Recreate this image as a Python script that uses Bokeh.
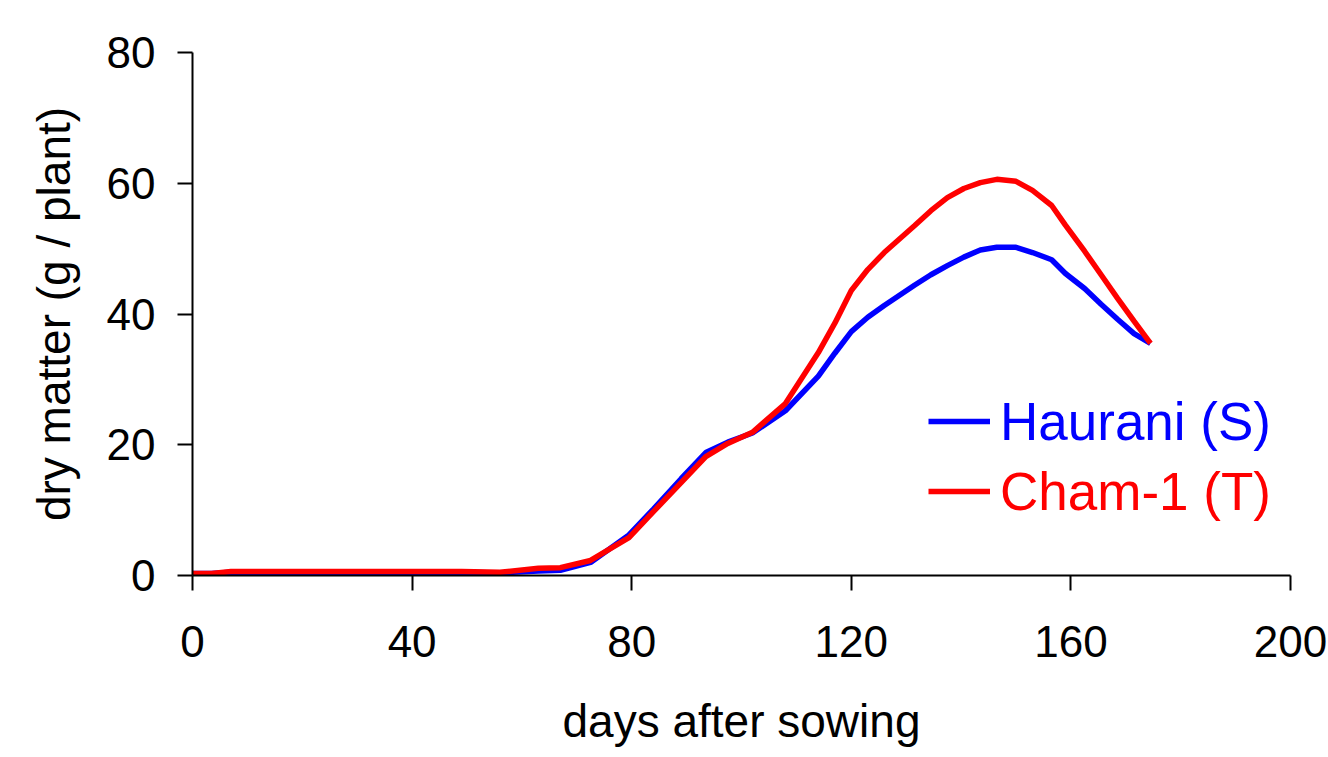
from bokeh.plotting import figure
from bokeh.models import Range1d, Legend, LegendItem, FixedTicker
from bokeh.embed import file_html
from bokeh.resources import INLINE

days = [0, 3.5, 7, 14, 21, 28, 35, 42, 49, 56, 63, 67, 72.5, 79.5, 84, 89, 93.5,
        97.5, 102, 108, 114, 117, 120, 123, 126, 131.5, 134.5, 137.5, 140.5, 143.5,
        146.5, 150, 153, 156.5, 159, 162.5, 165.5, 168.5, 171.5, 174.5]
haurani = [0.3, 0.3, 0.5, 0.5, 0.5, 0.5, 0.5, 0.5, 0.5, 0.4, 0.7, 0.8, 2.0, 6.2,
           10.2, 14.8, 18.8, 20.4, 21.8, 25.2, 30.5, 34.0, 37.3, 39.5, 41.3, 44.4, 46.0,
           47.4, 48.7, 49.8, 50.2, 50.2, 49.4, 48.3, 46.2, 43.9, 41.5, 39.2, 37.0, 35.5]
cham1 = [0.3, 0.3, 0.6, 0.6, 0.6, 0.6, 0.6, 0.6, 0.6, 0.5, 1.1, 1.2, 2.3, 5.8,
         9.8, 14.2, 18.2, 20.2, 21.9, 26.3, 34.1, 38.6, 43.6, 46.8, 49.4, 53.5, 55.8,
         57.8, 59.2, 60.1, 60.6, 60.3, 58.9, 56.6, 53.6, 49.6, 46.0, 42.4, 38.9, 35.5]
x_ticks = [0, 40, 80, 120, 160, 200]
y_ticks = [0, 20, 40, 60, 80]
series_names = ["Haurani (S)", "Cham-1 (T)"]
series_colors = ["#0000FF", "#FF0000"]

FONT = "Liberation Sans"

p = figure(width=1328, height=757, output_backend="svg", toolbar_location=None,
           x_range=Range1d(0, 200), y_range=Range1d(0, 80),
           min_border_left=192, min_border_right=38, min_border_top=52, min_border_bottom=182)
p.outline_line_color = None
p.grid.visible = False
p.background_fill_color = "white"
p.border_fill_color = "white"

r1 = p.line(days, haurani, line_color=series_colors[0], line_width=5.5)
r2 = p.line(days, cham1, line_color=series_colors[1], line_width=5.5)

for ax in (p.xaxis[0], p.yaxis[0]):
    ax.axis_line_color = "black"
    ax.axis_line_width = 2
    ax.major_tick_line_color = "black"
    ax.major_tick_line_width = 2
    ax.major_tick_in = 0
    ax.major_tick_out = 15
    ax.minor_tick_line_color = None
    ax.major_label_text_font = FONT
    ax.major_label_text_font_size = "44px"
    ax.major_label_text_color = "black"
    ax.axis_label_text_font = FONT
    ax.axis_label_text_font_size = "46px"
    ax.axis_label_text_font_style = "normal"
    ax.axis_label_text_color = "black"

p.xaxis.ticker = FixedTicker(ticks=x_ticks)
p.yaxis.ticker = FixedTicker(ticks=y_ticks)
p.xaxis.axis_label = "days after sowing"
p.yaxis.axis_label = "dry matter (g / plant)"
p.xaxis.major_label_standoff = 35
p.yaxis.major_label_standoff = 22
p.xaxis.axis_label_standoff = 35
p.yaxis.axis_label_standoff = 24


def make_legend(name, renderer, color, loc):
    lg = Legend(items=[LegendItem(label=name, renderers=[renderer])],
                location=loc, orientation="vertical")
    lg.border_line_alpha = 0
    lg.background_fill_alpha = 0
    lg.padding = 0
    lg.margin = 0
    lg.spacing = 0
    lg.glyph_width = 62
    lg.glyph_height = 62
    lg.label_height = 62
    lg.label_standoff = 10
    lg.label_text_font = FONT
    lg.label_text_font_size = "53px"
    lg.label_text_color = color
    return lg


p.add_layout(make_legend(series_names[0], r1, series_colors[0], (736, 123)))
p.add_layout(make_legend(series_names[1], r2, series_colors[1], (736, 53)))

open("out.html", "w").write(file_html(p, INLINE))
